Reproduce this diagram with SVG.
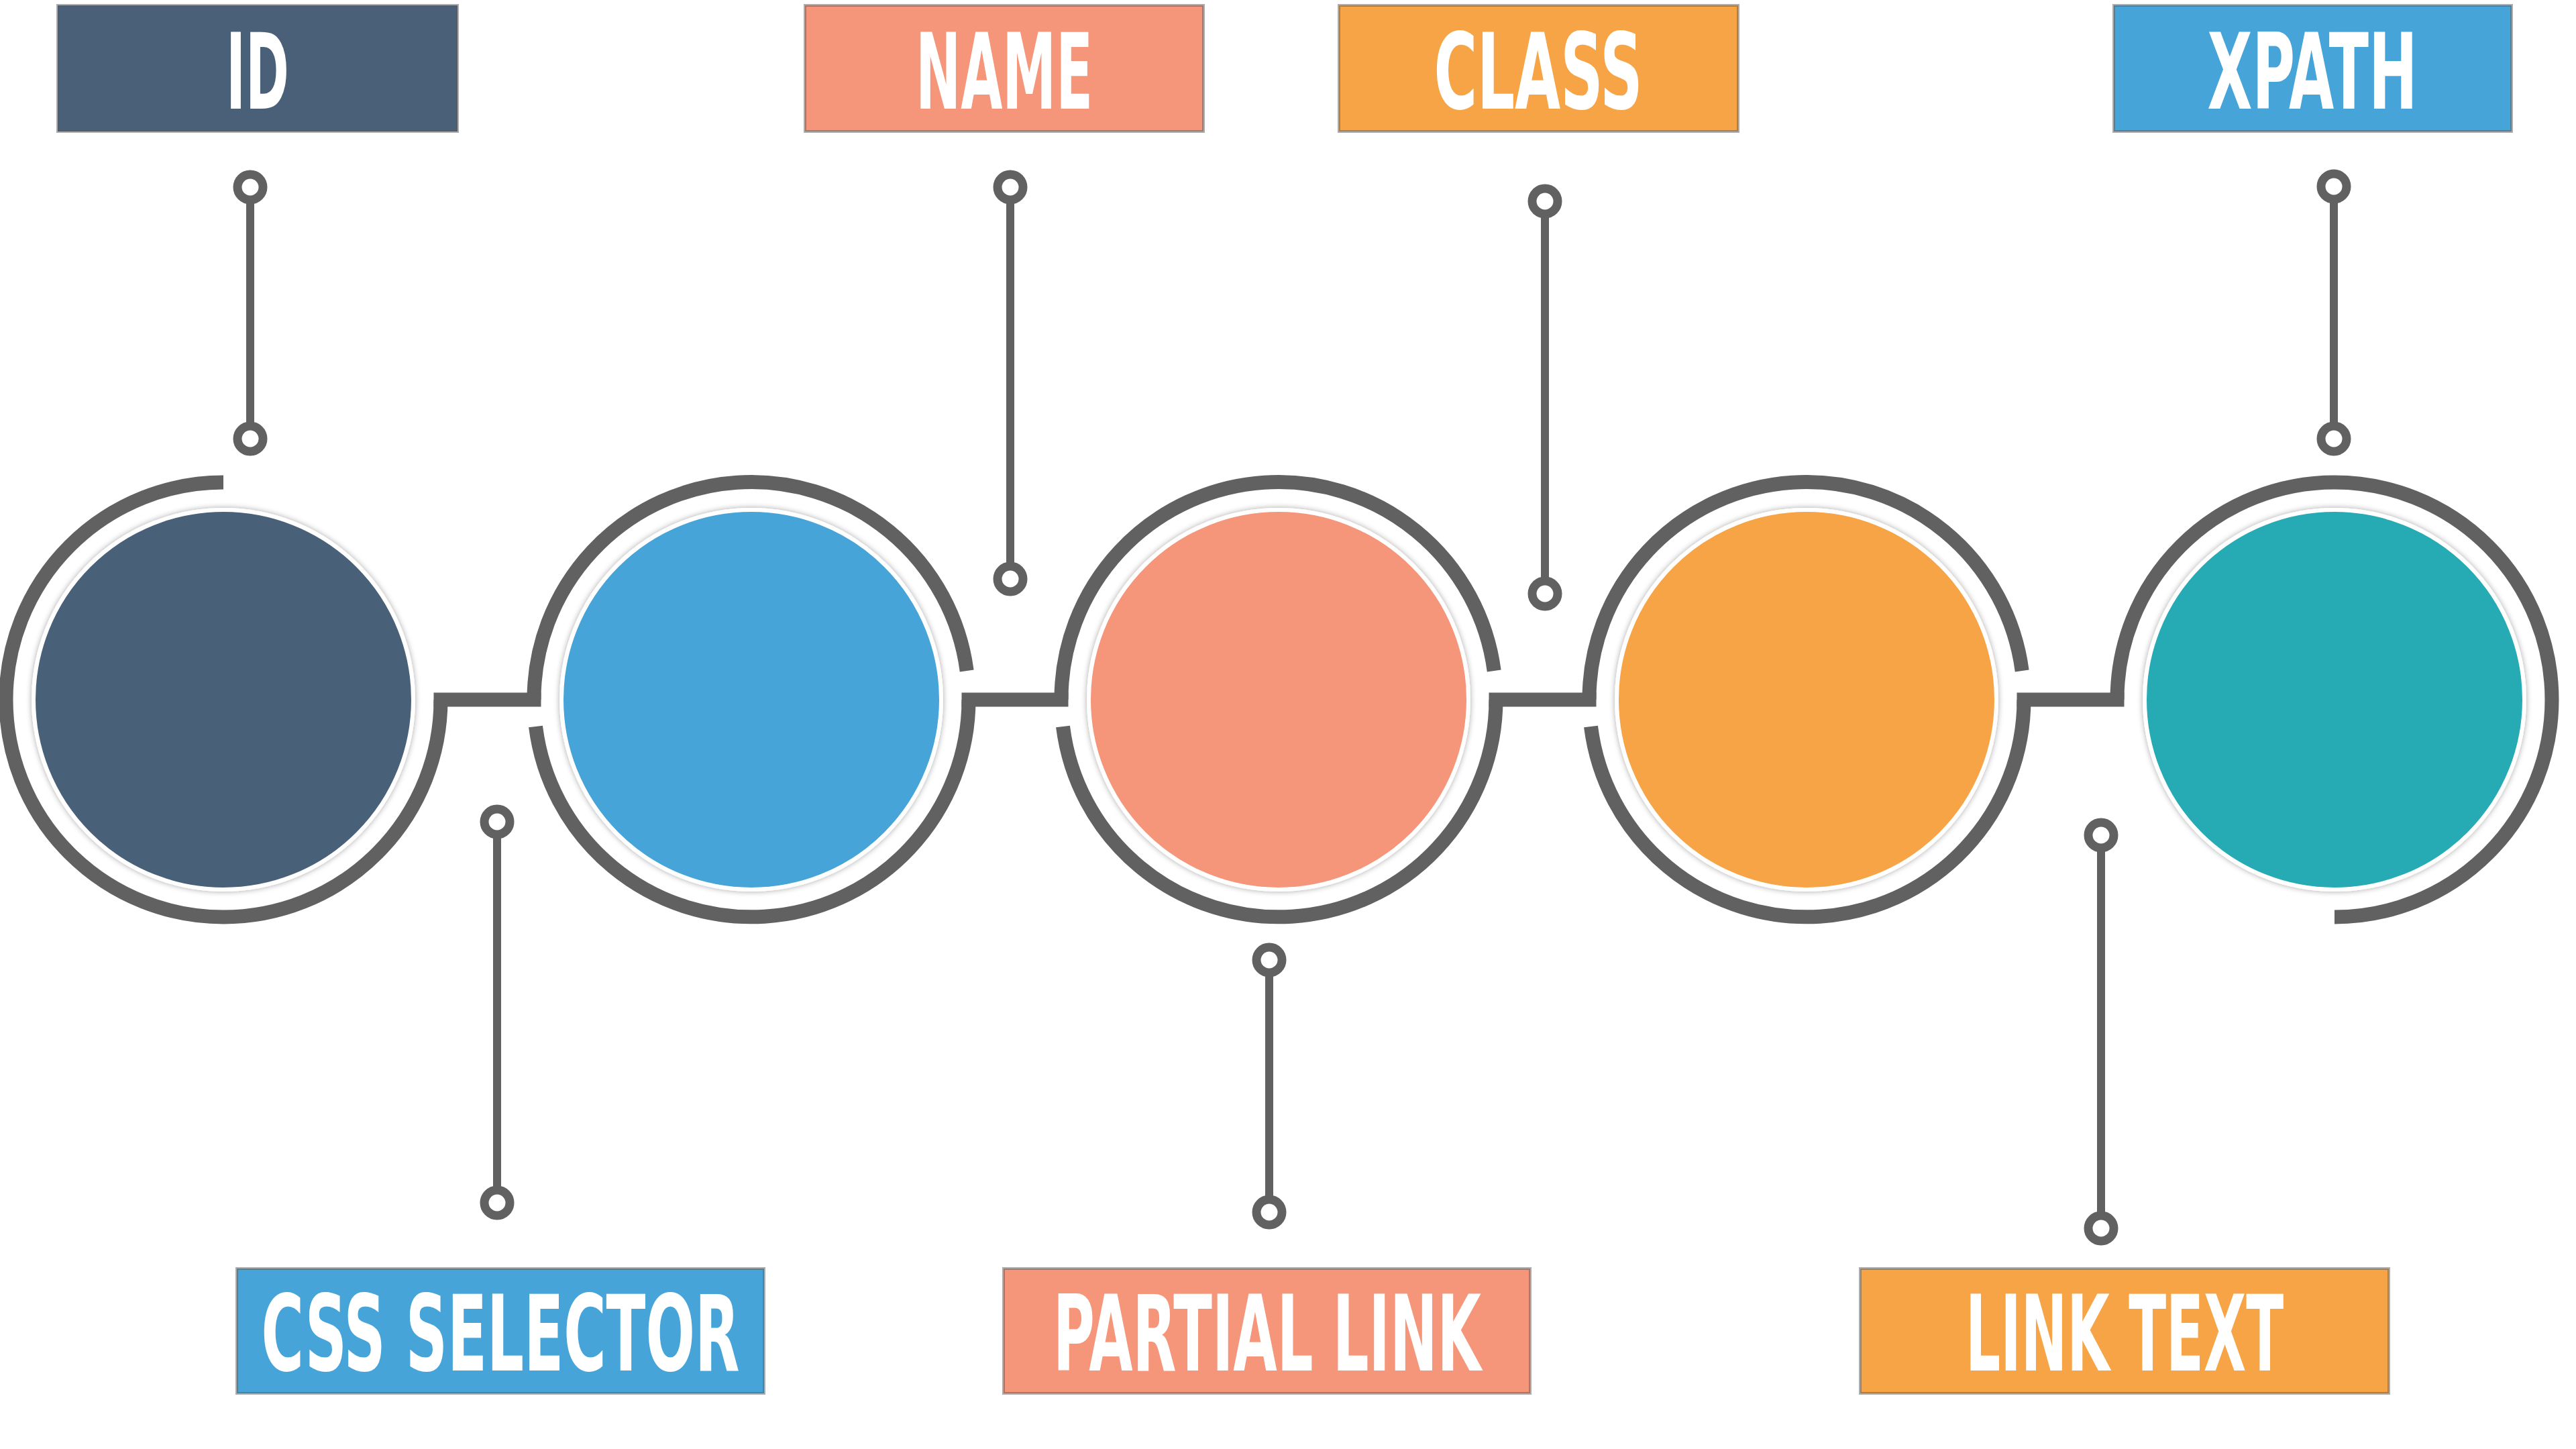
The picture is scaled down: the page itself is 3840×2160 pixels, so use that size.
<svg xmlns="http://www.w3.org/2000/svg" width="3840" height="2160" viewBox="0 0 3840 2160">
  <defs>
    <filter id="soft" x="-10%" y="-10%" width="120%" height="120%">
      <feDropShadow dx="0" dy="0" stdDeviation="4" flood-color="#000" flood-opacity="0.35"/>
    </filter>
  </defs>
  <style>
    .ring { fill: none; stroke: #616161; stroke-width: 21; stroke-linecap: butt; }
    .bar { fill: none; stroke: #616161; stroke-width: 21; stroke-linecap: square; stroke-linejoin: miter; }
    .pinline { stroke: #616161; stroke-width: 12; }
    .pin { fill: #ffffff; stroke: #616161; stroke-width: 13; }
    .disc { stroke: #ffffff; stroke-width: 6; filter: url(#soft); }
    .box { stroke: #5a5a5a; stroke-opacity: 0.5; stroke-width: 4; }
    .lbl { font-family: "DejaVu Sans Condensed", "DejaVu Sans", sans-serif; font-stretch: condensed; font-weight: bold; font-size: 156px; fill: #ffffff; text-anchor: middle; }
    .c-slate { fill: #4a6079; }
    .c-blue { fill: #46a4d8; }
    .c-salmon { fill: #f5967a; }
    .c-orange { fill: #f7a446; }
    .c-teal { fill: #25aab4; }
  </style>
  <rect x="0" y="0" width="3840" height="2160" fill="#ffffff"/>

  <!-- circle nodes -->
  <g id="circle-1">
    <path class="ring" d="M 657 1043 A 324 324 0 1 1 333 719"/>
    <circle class="disc c-slate" cx="333" cy="1043" r="283"/>
  </g>
  <g id="circle-2">
    <path class="ring" d="M 796 1043 A 324 324 0 0 1 1441.2 1000"/>
    <path class="ring" d="M 1444 1043 A 324 324 0 0 1 798.5 1083"/>
    <circle class="disc c-blue" cx="1120" cy="1043" r="283"/>
  </g>
  <g id="circle-3">
    <path class="ring" d="M 1582 1043 A 324 324 0 0 1 2227.2 1000"/>
    <path class="ring" d="M 2230 1043 A 324 324 0 0 1 1584.5 1083"/>
    <circle class="disc c-salmon" cx="1906" cy="1043" r="283"/>
  </g>
  <g id="circle-4">
    <path class="ring" d="M 2369 1043 A 324 324 0 0 1 3014.2 1000"/>
    <path class="ring" d="M 3017 1043 A 324 324 0 0 1 2371.5 1083"/>
    <circle class="disc c-orange" cx="2693" cy="1043" r="283"/>
  </g>
  <g id="circle-5">
    <path class="ring" d="M 3156 1043 A 324 324 0 1 1 3480 1367"/>
    <circle class="disc c-teal" cx="3480" cy="1043" r="283"/>
  </g>

  <!-- connectors -->
  <g id="connectors">
    <line class="bar" x1="657" y1="1043" x2="796" y2="1043"/>
    <line class="bar" x1="1444" y1="1043" x2="1582" y2="1043"/>
    <line class="bar" x1="2230" y1="1043" x2="2369" y2="1043"/>
    <line class="bar" x1="3017" y1="1043" x2="3156" y2="1043"/>

    <line class="pinline" x1="373" y1="298" x2="373" y2="635"/>
    <circle class="pin" cx="373" cy="279" r="19"/>
    <circle class="pin" cx="373" cy="654" r="19"/>

    <line class="pinline" x1="1506" y1="298" x2="1506" y2="844"/>
    <circle class="pin" cx="1506" cy="279" r="19"/>
    <circle class="pin" cx="1506" cy="863" r="19"/>

    <line class="pinline" x1="2303" y1="319" x2="2303" y2="866"/>
    <circle class="pin" cx="2303" cy="300" r="19"/>
    <circle class="pin" cx="2303" cy="885" r="19"/>

    <line class="pinline" x1="3479" y1="298" x2="3479" y2="635"/>
    <circle class="pin" cx="3479" cy="278" r="19"/>
    <circle class="pin" cx="3479" cy="654" r="19"/>

    <line class="pinline" x1="741" y1="1244" x2="741" y2="1774"/>
    <circle class="pin" cx="741" cy="1225" r="19"/>
    <circle class="pin" cx="741" cy="1793" r="19"/>

    <line class="pinline" x1="1892" y1="1450" x2="1892" y2="1788"/>
    <circle class="pin" cx="1892" cy="1431" r="19"/>
    <circle class="pin" cx="1892" cy="1807" r="19"/>

    <line class="pinline" x1="3132" y1="1264" x2="3132" y2="1812"/>
    <circle class="pin" cx="3132" cy="1245" r="19"/>
    <circle class="pin" cx="3132" cy="1831" r="19"/>
  </g>

  <!-- label nodes -->
  <g id="label-id">
    <rect class="box c-slate" x="86" y="8" width="596" height="188"/>
    <text class="lbl" x="384" y="162" textLength="94" lengthAdjust="spacingAndGlyphs">ID</text>
  </g>
  <g id="label-name">
    <rect class="box c-salmon" x="1200" y="8" width="594" height="188"/>
    <text class="lbl" x="1497" y="162" textLength="264" lengthAdjust="spacingAndGlyphs">NAME</text>
  </g>
  <g id="label-class">
    <rect class="box c-orange" x="1996" y="8" width="595" height="188"/>
    <text class="lbl" x="2293" y="162" textLength="311" lengthAdjust="spacingAndGlyphs">CLASS</text>
  </g>
  <g id="label-xpath">
    <rect class="box c-blue" x="3151" y="8" width="593" height="188"/>
    <text class="lbl" x="3447" y="162" textLength="313" lengthAdjust="spacingAndGlyphs">XPATH</text>
  </g>
  <g id="label-css-selector">
    <rect class="box c-blue" x="353" y="1891" width="786" height="186"/>
    <text class="lbl" x="746" y="2043" textLength="713" lengthAdjust="spacingAndGlyphs">CSS SELECTOR</text>
  </g>
  <g id="label-partial-link">
    <rect class="box c-salmon" x="1496" y="1891" width="785" height="186"/>
    <text class="lbl" x="1889" y="2043" textLength="638" lengthAdjust="spacingAndGlyphs">PARTIAL LINK</text>
  </g>
  <g id="label-link-text">
    <rect class="box c-orange" x="2773" y="1891" width="788" height="186"/>
    <text class="lbl" x="3167" y="2043" textLength="474" lengthAdjust="spacingAndGlyphs">LINK TEXT</text>
  </g>
</svg>
